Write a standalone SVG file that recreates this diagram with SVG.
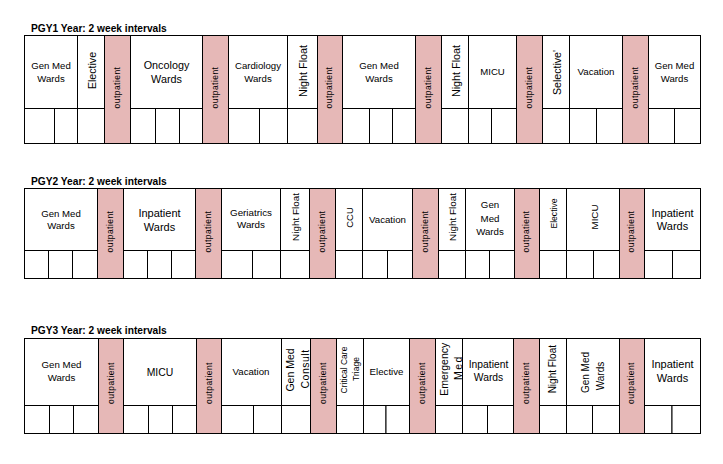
<svg xmlns="http://www.w3.org/2000/svg" width="723" height="464" viewBox="0 0 723 464">
<style>
.c{fill:#fff;stroke:#000;stroke-width:1}
.o{fill:#E6B8B7;stroke:#000;stroke-width:1}
text{font-family:"Liberation Sans",Arial,sans-serif;fill:#000;text-anchor:middle}
.h{font-weight:bold;font-size:10.2px;text-anchor:start}
.t{font-size:9.6px}
.v{font-size:10.6px;dominant-baseline:central}
.op{font-size:8.5px;letter-spacing:0.45px;dominant-baseline:central}
</style>
<rect width="723" height="464" fill="#fff"/>

<!-- ===== PGY1 ===== -->
<g id="pgy1">
<text class="h" x="31" y="32">PGY1 Year: 2 week intervals</text>
<g id="r1-genmed1"><rect class="c" x="24.5" y="35.5" width="53" height="73"/><rect class="c" x="24.5" y="108.5" width="30" height="35"/><rect class="c" x="54.5" y="108.5" width="23" height="35"/><text class="t" x="51" y="68.5">Gen Med</text><text class="t" x="51" y="81.5">Wards</text></g>
<g id="r1-elective"><rect class="c" x="77.5" y="35.5" width="27" height="73"/><rect class="c" x="77.5" y="108.5" width="27" height="35"/><text class="v" transform="translate(91.5,70.5) rotate(-90)">Elective</text></g>
<g id="r1-out1"><rect class="o" x="104.5" y="35.5" width="26" height="108"/><text class="op" transform="translate(116.5,87.5) rotate(-90)">outpatient</text></g>
<g id="r1-oncology"><rect class="c" x="130.5" y="35.5" width="72" height="73"/><rect class="c" x="130.5" y="108.5" width="25" height="35"/><rect class="c" x="155.5" y="108.5" width="24" height="35"/><rect class="c" x="179.5" y="108.5" width="23" height="35"/><text class="t" style="font-size:10.8px" x="166.5" y="69">Oncology</text><text class="t" style="font-size:10.8px" x="166.5" y="82.5">Wards</text></g>
<g id="r1-out2"><rect class="o" x="202.5" y="35.5" width="26" height="108"/><text class="op" transform="translate(214.5,87.5) rotate(-90)">outpatient</text></g>
<g id="r1-cardiology"><rect class="c" x="228.5" y="35.5" width="59" height="73"/><rect class="c" x="228.5" y="108.5" width="31" height="35"/><rect class="c" x="259.5" y="108.5" width="28" height="35"/><text class="t" x="258" y="68.5">Cardiology</text><text class="t" x="258" y="81.5">Wards</text></g>
<g id="r1-nightfloat1"><rect class="c" x="287.5" y="35.5" width="30" height="73"/><rect class="c" x="287.5" y="108.5" width="30" height="35"/><text class="v" style="font-size:10.8px" transform="translate(302.5,71) rotate(-90)">Night Float</text></g>
<g id="r1-out3"><rect class="o" x="317.5" y="35.5" width="25" height="108"/><text class="op" transform="translate(329,87.5) rotate(-90)">outpatient</text></g>
<g id="r1-genmed2"><rect class="c" x="342.5" y="35.5" width="73" height="73"/><rect class="c" x="342.5" y="108.5" width="27" height="35"/><rect class="c" x="369.5" y="108.5" width="23" height="35"/><rect class="c" x="392.5" y="108.5" width="23" height="35"/><text class="t" x="379" y="68.5">Gen Med</text><text class="t" x="379" y="81.5">Wards</text></g>
<g id="r1-out4"><rect class="o" x="415.5" y="35.5" width="26" height="108"/><text class="op" transform="translate(427.5,87.5) rotate(-90)">outpatient</text></g>
<g id="r1-nightfloat2"><rect class="c" x="441.5" y="35.5" width="27" height="73"/><rect class="c" x="441.5" y="108.5" width="27" height="35"/><text class="v" style="font-size:10.8px" transform="translate(455.5,71) rotate(-90)">Night Float</text></g>
<g id="r1-micu"><rect class="c" x="468.5" y="35.5" width="48" height="73"/><rect class="c" x="468.5" y="108.5" width="23" height="35"/><rect class="c" x="491.5" y="108.5" width="25" height="35"/><text class="t" x="492.5" y="75">MICU</text></g>
<g id="r1-out5"><rect class="o" x="516.5" y="35.5" width="26" height="108"/><text class="op" transform="translate(528.5,87.5) rotate(-90)">outpatient</text></g>
<g id="r1-selective"><rect class="c" x="542.5" y="35.5" width="27" height="73"/><rect class="c" x="542.5" y="108.5" width="27" height="35"/><text class="v" transform="translate(556.5,72.5) rotate(-90)">Selective'</text></g>
<g id="r1-vacation"><rect class="c" x="569.5" y="35.5" width="53" height="73"/><rect class="c" x="569.5" y="108.5" width="27" height="35"/><rect class="c" x="596.5" y="108.5" width="26" height="35"/><text class="t" style="font-size:9.7px" x="596" y="75">Vacation</text></g>
<g id="r1-out6"><rect class="o" x="622.5" y="35.5" width="26" height="108"/><text class="op" transform="translate(634.5,87.5) rotate(-90)">outpatient</text></g>
<g id="r1-genmed3"><rect class="c" x="648.5" y="35.5" width="52" height="73"/><rect class="c" x="648.5" y="108.5" width="26" height="35"/><rect class="c" x="674.5" y="108.5" width="26" height="35"/><text class="t" x="674.5" y="68.5">Gen Med</text><text class="t" x="674.5" y="81.5">Wards</text></g>
</g>

<!-- ===== PGY2 ===== -->
<g id="pgy2">
<text class="h" x="31" y="184.5">PGY2 Year: 2 week intervals</text>
<g id="r2-genmed1"><rect class="c" x="24.5" y="188.5" width="73" height="62"/><rect class="c" x="24.5" y="250.5" width="24" height="28"/><rect class="c" x="48.5" y="250.5" width="24" height="28"/><rect class="c" x="72.5" y="250.5" width="25" height="28"/><text class="t" x="61" y="216.5">Gen Med</text><text class="t" x="61" y="229">Wards</text></g>
<g id="r2-out1"><rect class="o" x="97.5" y="188.5" width="26" height="90"/><text class="op" transform="translate(109.5,231.5) rotate(-90)">outpatient</text></g>
<g id="r2-inpatient1"><rect class="c" x="123.5" y="188.5" width="72" height="62"/><rect class="c" x="123.5" y="250.5" width="24" height="28"/><rect class="c" x="147.5" y="250.5" width="24" height="28"/><rect class="c" x="171.5" y="250.5" width="24" height="28"/><text class="t" style="font-size:11px" x="159.5" y="216.5">Inpatient</text><text class="t" style="font-size:11px" x="159.5" y="231">Wards</text></g>
<g id="r2-out2"><rect class="o" x="195.5" y="188.5" width="26" height="90"/><text class="op" transform="translate(207.5,231.5) rotate(-90)">outpatient</text></g>
<g id="r2-geriatrics"><rect class="c" x="221.5" y="188.5" width="59" height="62"/><rect class="c" x="221.5" y="250.5" width="31" height="28"/><rect class="c" x="252.5" y="250.5" width="28" height="28"/><text class="t" style="font-size:9.8px" x="251" y="215.7">Geriatrics</text><text class="t" style="font-size:9.8px" x="251" y="228.3">Wards</text></g>
<g id="r2-nightfloat1"><rect class="c" x="280.5" y="188.5" width="29" height="62"/><rect class="c" x="280.5" y="250.5" width="29" height="28"/><text class="v" style="font-size:9.9px" transform="translate(295,217) rotate(-90)">Night Float</text></g>
<g id="r2-out3"><rect class="o" x="309.5" y="188.5" width="26" height="90"/><text class="op" transform="translate(321.5,231.5) rotate(-90)">outpatient</text></g>
<g id="r2-ccu"><rect class="c" x="335.5" y="188.5" width="27" height="62"/><rect class="c" x="335.5" y="250.5" width="27" height="28"/><text class="v" style="font-size:9.4px" transform="translate(349,217.5) rotate(-90)">CCU</text></g>
<g id="r2-vacation"><rect class="c" x="362.5" y="188.5" width="50" height="62"/><rect class="c" x="362.5" y="250.5" width="25" height="28"/><rect class="c" x="387.5" y="250.5" width="25" height="28"/><text class="t" style="font-size:9.7px" x="387.5" y="222.5">Vacation</text></g>
<g id="r2-out4"><rect class="o" x="412.5" y="188.5" width="26" height="90"/><text class="op" transform="translate(424.5,231.5) rotate(-90)">outpatient</text></g>
<g id="r2-nightfloat2"><rect class="c" x="438.5" y="188.5" width="27" height="62"/><rect class="c" x="438.5" y="250.5" width="27" height="28"/><text class="v" style="font-size:9.9px" transform="translate(452,217) rotate(-90)">Night Float</text></g>
<g id="r2-genmed2"><rect class="c" x="465.5" y="188.5" width="49" height="62"/><rect class="c" x="465.5" y="250.5" width="24" height="28"/><rect class="c" x="489.5" y="250.5" width="25" height="28"/><text class="t" style="font-size:9.7px" x="490" y="208.3">Gen</text><text class="t" style="font-size:9.7px" x="490" y="221.7">Med</text><text class="t" style="font-size:9.7px" x="490" y="235.3">Wards</text></g>
<g id="r2-out5"><rect class="o" x="514.5" y="188.5" width="25" height="90"/><text class="op" transform="translate(526,231.5) rotate(-90)">outpatient</text></g>
<g id="r2-elective"><rect class="c" x="539.5" y="188.5" width="27" height="62"/><rect class="c" x="539.5" y="250.5" width="27" height="28"/><text class="v" style="font-size:8.6px" transform="translate(553.5,213.5) rotate(-90)">Elective</text></g>
<g id="r2-micu"><rect class="c" x="566.5" y="188.5" width="53" height="62"/><rect class="c" x="566.5" y="250.5" width="27" height="28"/><rect class="c" x="593.5" y="250.5" width="26" height="28"/><text class="v" style="font-size:9.8px" transform="translate(594,217) rotate(-90)">MICU</text></g>
<g id="r2-out6"><rect class="o" x="619.5" y="188.5" width="25" height="90"/><text class="op" transform="translate(631,231.5) rotate(-90)">outpatient</text></g>
<g id="r2-inpatient2"><rect class="c" x="644.5" y="188.5" width="56" height="62"/><rect class="c" x="644.5" y="250.5" width="28" height="28"/><rect class="c" x="672.5" y="250.5" width="28" height="28"/><text class="t" style="font-size:11px" x="672.5" y="216.7">Inpatient</text><text class="t" style="font-size:11px" x="672.5" y="230.3">Wards</text></g>
</g>

<!-- ===== PGY3 ===== -->
<g id="pgy3">
<text class="h" x="31" y="334">PGY3 Year: 2 week intervals</text>
<g id="r3-genmed1"><rect class="c" x="24.5" y="338.5" width="74" height="67"/><rect class="c" x="24.5" y="405.5" width="25" height="28"/><rect class="c" x="49.5" y="405.5" width="24" height="28"/><rect class="c" x="73.5" y="405.5" width="25" height="28"/><text class="t" style="font-size:9.7px" x="61.5" y="367.7">Gen Med</text><text class="t" style="font-size:9.7px" x="61.5" y="380.7">Wards</text></g>
<g id="r3-out1"><rect class="o" x="98.5" y="338.5" width="25" height="95"/><text class="op" transform="translate(110.5,383) rotate(-90)">outpatient</text></g>
<g id="r3-micu"><rect class="c" x="123.5" y="338.5" width="73" height="67"/><rect class="c" x="123.5" y="405.5" width="25" height="28"/><rect class="c" x="148.5" y="405.5" width="24" height="28"/><rect class="c" x="172.5" y="405.5" width="24" height="28"/><text class="t" style="font-size:10.4px" x="160" y="375.7">MICU</text></g>
<g id="r3-out2"><rect class="o" x="196.5" y="338.5" width="25" height="95"/><text class="op" transform="translate(208.5,383) rotate(-90)">outpatient</text></g>
<g id="r3-vacation"><rect class="c" x="221.5" y="338.5" width="60" height="67"/><rect class="c" x="221.5" y="405.5" width="32" height="28"/><rect class="c" x="253.5" y="405.5" width="28" height="28"/><text class="t" style="font-size:9.7px" x="251" y="375">Vacation</text></g>
<g id="r3-genmedconsult"><rect class="c" x="281.5" y="338.5" width="29" height="67"/><rect class="c" x="281.5" y="405.5" width="29" height="28"/><text class="v" style="font-size:10.5px" transform="translate(290,370) rotate(-90)">Gen Med</text><text class="v" style="font-size:10.5px;letter-spacing:0.5px" transform="translate(305,369) rotate(-90)">Consult</text></g>
<g id="r3-out3"><rect class="o" x="310.5" y="338.5" width="26" height="95"/><text class="op" transform="translate(322.5,383) rotate(-90)">outpatient</text></g>
<g id="r3-criticalcare"><rect class="c" x="336.5" y="338.5" width="27" height="67"/><rect class="c" x="336.5" y="405.5" width="27" height="28"/><text class="v" style="font-size:8.5px" transform="translate(343.5,370) rotate(-90)">Critical Care</text><text class="v" style="font-size:8.5px" transform="translate(356,369) rotate(-90)">Triage</text></g>
<g id="r3-elective"><rect class="c" x="363.5" y="338.5" width="46" height="67"/><rect class="c" x="363.5" y="405.5" width="22.5" height="28"/><rect class="c" x="386" y="405.5" width="23.5" height="28"/><text class="t" style="font-size:9.7px" x="386.5" y="375">Elective</text></g>
<g id="r3-out4"><rect class="o" x="409.5" y="338.5" width="26" height="95"/><text class="op" transform="translate(421.5,383) rotate(-90)">outpatient</text></g>
<g id="r3-emergency"><rect class="c" x="435.5" y="338.5" width="27" height="67"/><rect class="c" x="435.5" y="405.5" width="27" height="28"/><text class="v" style="font-size:10.5px" transform="translate(443.5,369.3) rotate(-90)">Emergency</text><text class="v" style="font-size:10.5px;letter-spacing:1.5px" transform="translate(457.5,367.5) rotate(-90)">Med</text></g>
<g id="r3-inpatient1"><rect class="c" x="462.5" y="338.5" width="51" height="67"/><rect class="c" x="462.5" y="405.5" width="25" height="28"/><rect class="c" x="487.5" y="405.5" width="26" height="28"/><text class="t" style="font-size:10.3px" x="488.5" y="367.7">Inpatient</text><text class="t" style="font-size:10.3px" x="488.5" y="381">Wards</text></g>
<g id="r3-out5"><rect class="o" x="513.5" y="338.5" width="26" height="95"/><text class="op" transform="translate(525.5,383) rotate(-90)">outpatient</text></g>
<g id="r3-nightfloat"><rect class="c" x="539.5" y="338.5" width="27" height="67"/><rect class="c" x="539.5" y="405.5" width="27" height="28"/><text class="v" style="font-size:10px" transform="translate(552.5,369.2) rotate(-90)">Night Float</text></g>
<g id="r3-genmed2"><rect class="c" x="566.5" y="338.5" width="53" height="67"/><rect class="c" x="566.5" y="405.5" width="26" height="28"/><rect class="c" x="592.5" y="405.5" width="27" height="28"/><text class="v" style="font-size:10px" transform="translate(585,372.5) rotate(-90)">Gen Med</text><text class="v" style="font-size:10px" transform="translate(600,376) rotate(-90)">Wards</text></g>
<g id="r3-out6"><rect class="o" x="619.5" y="338.5" width="25" height="95"/><text class="op" transform="translate(631,383) rotate(-90)">outpatient</text></g>
<g id="r3-inpatient2"><rect class="c" x="644.5" y="338.5" width="56" height="67"/><rect class="c" x="644.5" y="405.5" width="27.5" height="28"/><rect class="c" x="672" y="405.5" width="28.5" height="28"/><text class="t" style="font-size:11px" x="672.5" y="368.3">Inpatient</text><text class="t" style="font-size:11px" x="672.5" y="382.3">Wards</text></g>
</g>
</svg>
